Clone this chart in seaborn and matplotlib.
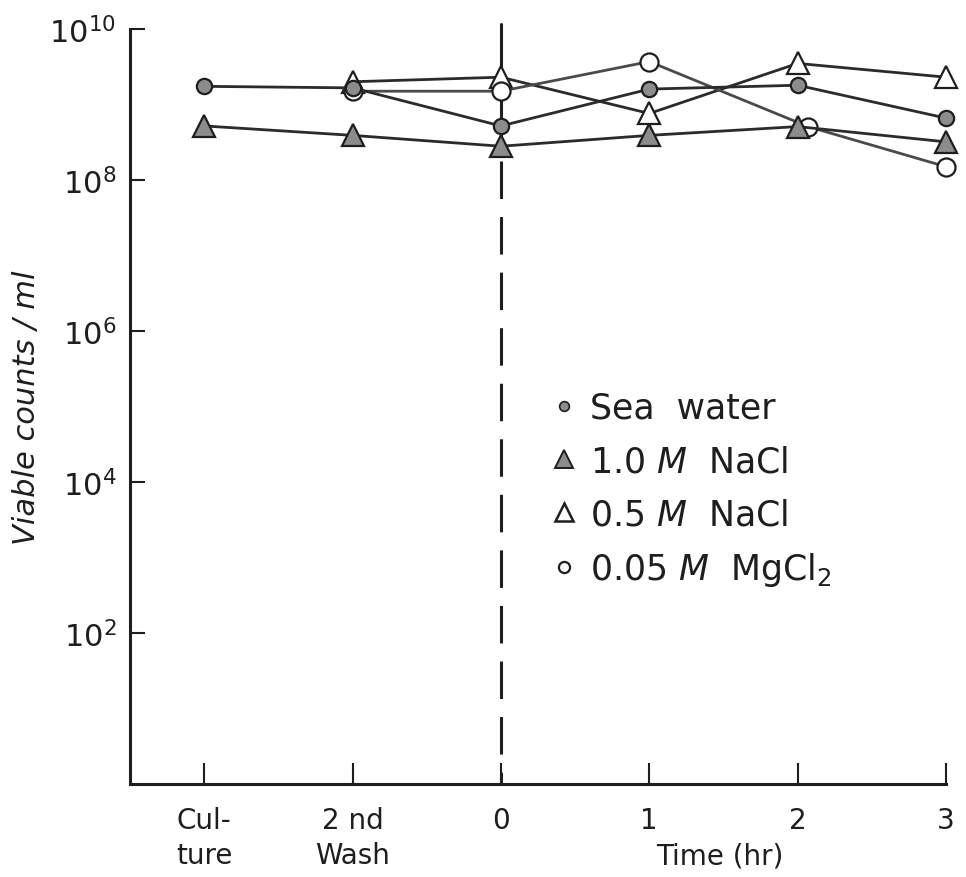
import matplotlib
matplotlib.use("Agg")
import matplotlib.pyplot as plt
from matplotlib.lines import Line2D
import seaborn as sns
import numpy as np
import pandas as pd

# ---- data ----
tick_positions = [-2, -1, 0, 1, 2, 3]
tick_labels = ["Cul-\nture", "2 nd\nWash", "0", "1", "2", "3"]

sea_x = [-2, -1, 0, 1, 2, 3]
sea_water = [1.74e9, 1.66e9, 5.2e8, 1.6e9, 1.8e9, 6.6e8]

nacl10_x = [-2, -1, 0, 1, 2, 3]
nacl_10 = [5.2e8, 3.9e8, 2.8e8, 3.9e8, 5.1e8, 3.2e8]

nacl05_x = [-1, 0, 1, 2, 3]
nacl_05 = [2.0e9, 2.3e9, 7.6e8, 3.5e9, 2.3e9]

mgcl2_x = [-1, 0, 1, 2.07, 3]
mgcl2 = [1.5e9, 1.5e9, 3.7e9, 5.1e8, 1.5e8]

legend_labels = ["Sea  water", r"1.0 $\mathit{M}$  NaCl", r"0.5 $\mathit{M}$  NaCl",
                 r"0.05 $\mathit{M}$  MgCl$_2$"]

# ---- style ----
sns.set_style("white")
plt.rcParams["font.family"] = ["DejaVu Sans"]
plt.rcParams["mathtext.fontset"] = "custom"
plt.rcParams["mathtext.rm"] = "DejaVu Sans"
plt.rcParams["mathtext.it"] = "DejaVu Sans:italic"
plt.rcParams["lines.scale_dashes"] = False

ink = "#1e1e1e"
line_col = "#2b2b2b"
fill_gray = "#8c8c8c"

fig = plt.figure(figsize=(9.66, 8.78), dpi=100)
ax = fig.add_axes([130 / 966, 1 - 785 / 878, (946 - 130) / 966, (785 - 30) / 878])

ax.set_yscale("log")

# vertical dashed line at time 0
ax.plot([0, 0], [10 ** 8.25, 1], color=ink, lw=2.2, dashes=(27, 13), zorder=1)
ax.plot([0, 0], [10 ** 8.4, 10 ** 10.07], color=ink, lw=2.2, zorder=1, clip_on=False)

series = [
    (nacl05_x, nacl_05, "^", "white", 16, line_col),
    (mgcl2_x, mgcl2, "o", "white", 13, "#4a4a4a"),
    (nacl10_x, nacl_10, "^", fill_gray, 16, line_col),
    (sea_x, sea_water, "o", fill_gray, 11, line_col),
]
for xs, ys, mk, fc, ms, lc in series:
    df = pd.DataFrame({"x": xs, "y": ys})
    sns.lineplot(data=df, x="x", y="y", ax=ax, color=lc, lw=2.0,
                 marker=mk, markersize=ms, markerfacecolor=fc,
                 markeredgecolor=ink, markeredgewidth=1.6, zorder=3, clip_on=False)

ax.set_xlim(-2.5, 3)
ax.set_ylim(1, 1e10)
ax.set_yticks([1e2, 1e4, 1e6, 1e8, 1e10])
ax.set_yticklabels([r"$\mathregular{10^{2}}$", r"$\mathregular{10^{4}}$",
                    r"$\mathregular{10^{6}}$", r"$\mathregular{10^{8}}$",
                    r"$\mathregular{10^{10}}$"])
ax.yaxis.set_minor_locator(matplotlib.ticker.NullLocator())
ax.set_xticks(tick_positions)
ax.set_xticklabels(tick_labels, linespacing=1.3)

for s in ["top", "right"]:
    ax.spines[s].set_visible(False)
for s in ["left", "bottom"]:
    ax.spines[s].set_linewidth(2.2)
    ax.spines[s].set_color(ink)

ax.tick_params(axis="y", left=True, direction="in", length=11, width=1.5, colors=ink,
               labelsize=22, pad=10)
ax.tick_params(axis="x", bottom=True, direction="in", length=15, width=1.5, colors=ink,
               labelsize=20, pad=16)

ax.set_xlabel("")
ax.set_ylabel("Viable counts / ml", fontsize=22, style="italic", color=ink, labelpad=6)
fig.text(720 / 966, 1 - 857 / 878, "Time (hr)", fontsize=20, color=ink,
         ha="center", va="center")

handles = [
    Line2D([], [], ls="none", marker="o", markersize=7, markerfacecolor=fill_gray,
           markeredgecolor=ink, markeredgewidth=1.2),
    Line2D([], [], ls="none", marker="^", markersize=13, markerfacecolor=fill_gray,
           markeredgecolor=ink, markeredgewidth=1.4),
    Line2D([], [], ls="none", marker="^", markersize=13, markerfacecolor="white",
           markeredgecolor=ink, markeredgewidth=1.8),
    Line2D([], [], ls="none", marker="o", markersize=8, markerfacecolor="white",
           markeredgecolor=ink, markeredgewidth=1.6),
]
ax.legend(handles, legend_labels, loc="upper left",
          bbox_to_anchor=(550 / 966, 1 - 392 / 878), bbox_transform=fig.transFigure,
          frameon=False, fontsize=25, handlelength=0.8, handletextpad=0.35,
          labelspacing=0.55, borderpad=0, borderaxespad=0, labelcolor=ink)

fig.savefig("out.png", dpi=100, facecolor="white")
